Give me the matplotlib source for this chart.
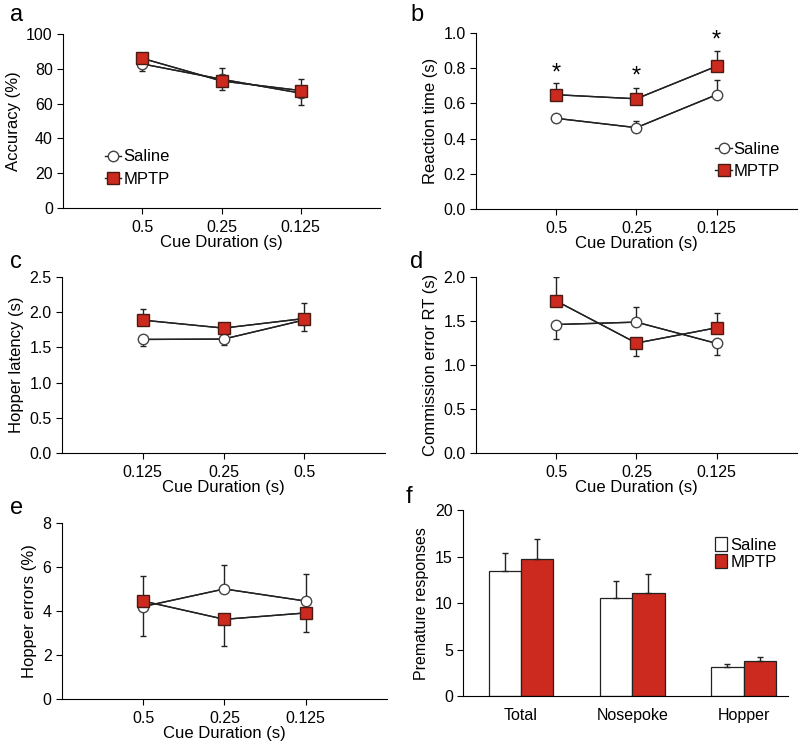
import numpy as np
import matplotlib
matplotlib.use('Agg')
import matplotlib.pyplot as plt

plt.rcParams['font.family'] = ['Liberation Sans', 'DejaVu Sans']

# data
cue_desc = ['0.5', '0.25', '0.125']
cue_asc = ['0.125', '0.25', '0.5']

acc_sal = [82.8, 74, 66]
acc_sal_err = [4, 6, 7]
acc_mptp = [86, 73, 67.5]
acc_mptp_err = [2, 7.5, 6.5]

rt_sal = [0.515, 0.462, 0.649]
rt_sal_err = [0.02, 0.035, 0.083]
rt_mptp = [0.649, 0.626, 0.811]
rt_mptp_err = [0.064, 0.064, 0.085]
rt_star_y = [0.77, 0.75, 0.955]

hl_sal = [1.613, 1.618, 1.89]
hl_sal_err = [0.09, 0.09, 0.16]
hl_mptp = [1.887, 1.774, 1.91]
hl_mptp_err = [0.155, 0.07, 0.22]

ce_sal = [1.46, 1.487, 1.245]
ce_sal_err = [0.17, 0.177, 0.135]
ce_sal_dir = [-1, 1, -1]
ce_mptp = [1.728, 1.249, 1.423]
ce_mptp_err = [0.27, 0.15, 0.17]
ce_mptp_dir = [1, -1, 1]

he_sal = [4.2, 5.0, 4.45]
he_sal_err = [1.32, 1.09, 1.24]
he_sal_dir = [-1, 1, 1]
he_mptp = [4.45, 3.62, 3.91]
he_mptp_err = [1.15, 1.2, 0.86]
he_mptp_dir = [1, -1, -1]

prem_cats = ['Total', 'Nosepoke', 'Hopper']
prem_sal = [13.44, 10.5, 3.08]
prem_sal_err = [1.9, 1.9, 0.36]
prem_mptp = [14.73, 11.1, 3.73]
prem_mptp_err = [2.12, 2.05, 0.43]

red = '#CC2A1E'
fs_tick = 11.5
fs_lab = 12


def one_sided(err, dirs):
    err = np.array(err)
    dirs = np.array(dirs)
    lo = np.where(dirs < 0, err, 0)
    hi = np.where(dirs > 0, err, 0)
    return [lo, hi]


def style(ax, ylim, yticks, fmt):
    ax.spines['top'].set_visible(False)
    ax.spines['right'].set_visible(False)
    ax.set_ylim(*ylim)
    ax.set_yticks(yticks)
    ax.set_yticklabels([fmt.format(v) for v in yticks])
    ax.tick_params(direction='out', length=4, labelsize=fs_tick, width=0.8)
    ax.tick_params(axis='x', pad=5)


def line_panel(ax, labels, sal, sal_err, sal_dir, mptp, mptp_err, mptp_dir):
    x = np.arange(1, 4)
    ax.errorbar(x, sal, yerr=one_sided(sal_err, sal_dir), fmt='-', color='#222222',
                lw=1, capsize=2, elinewidth=1, zorder=2)
    ax.errorbar(x, mptp, yerr=one_sided(mptp_err, mptp_dir), fmt='-', color='#222222',
                lw=1, capsize=2, elinewidth=1, zorder=2)
    l1, = ax.plot(x, sal, '-o', color='#222222', mfc='white', mec='#444444', ms=7.5,
                  lw=1, zorder=3, label='Saline')
    l2, = ax.plot(x, mptp, '-s', color='#222222', mfc=red, mec='#4a1a14', ms=8,
                  lw=1, zorder=4, label='MPTP')
    ax.set_xlim(0, 4)
    ax.set_xticks(x)
    ax.set_xticklabels(labels)
    ax.set_xlabel('Cue Duration (s)', fontsize=fs_lab, labelpad=0)
    return l1, l2


fig = plt.figure(figsize=(8, 7.49), dpi=100)

# a
ax = fig.add_axes([0.079, 0.7223, 0.396, 0.2323])
h = line_panel(ax, cue_desc, acc_sal, acc_sal_err, [-1] * 3, acc_mptp, acc_mptp_err, [1] * 3)
style(ax, (0, 100), [0, 20, 40, 60, 80, 100], '{:g}')
ax.set_ylabel('Accuracy (%)', fontsize=fs_lab)
ax.legend(handles=h, loc='upper left', bbox_to_anchor=(0.105, 0.385), frameon=False,
          fontsize=fs_lab, handlelength=1.0, handletextpad=0.1, labelspacing=0.45, borderpad=0)

# b
ax = fig.add_axes([0.595, 0.721, 0.401, 0.235])
h = line_panel(ax, cue_desc, rt_sal, rt_sal_err, [1] * 3, rt_mptp, rt_mptp_err, [1] * 3)
style(ax, (0, 1.0), [0, 0.2, 0.4, 0.6, 0.8, 1.0], '{:.1f}')
ax.set_ylabel('Reaction time (s)', fontsize=fs_lab)
ax.legend(handles=h, loc='upper left', bbox_to_anchor=(0.72, 0.43), frameon=False,
          fontsize=fs_lab, handlelength=1.0, handletextpad=0.1, labelspacing=0.45, borderpad=0)
for i, y in enumerate(rt_star_y):
    ax.text(i + 1, y, '*', ha='center', va='center', fontsize=17)

# c
ax = fig.add_axes([0.0775, 0.3952, 0.404, 0.235])
line_panel(ax, cue_asc, hl_sal, hl_sal_err, [-1] * 3, hl_mptp, hl_mptp_err, [1] * 3)
style(ax, (0, 2.5), [0, 0.5, 1.0, 1.5, 2.0, 2.5], '{:.1f}')
ax.set_ylabel('Hopper latency (s)', fontsize=fs_lab)

# d
ax = fig.add_axes([0.595, 0.3952, 0.401, 0.235])
line_panel(ax, cue_desc, ce_sal, ce_sal_err, ce_sal_dir, ce_mptp, ce_mptp_err, ce_mptp_dir)
style(ax, (0, 2.0), [0, 0.5, 1.0, 1.5, 2.0], '{:.1f}')
ax.set_ylabel('Commission error RT (s)', fontsize=fs_lab)

# e
ax = fig.add_axes([0.0775, 0.0668, 0.406, 0.235])
line_panel(ax, cue_desc, he_sal, he_sal_err, he_sal_dir, he_mptp, he_mptp_err, he_mptp_dir)
style(ax, (0, 8), [0, 2, 4, 6, 8], '{:g}')
ax.set_ylabel('Hopper errors (%)', fontsize=fs_lab)

# f
ax = fig.add_axes([0.579, 0.0708, 0.406, 0.248])
xb = np.arange(1, 4)
w = 0.29
ax.bar(xb - w / 2, prem_sal, w, color='white', edgecolor='#222222', lw=0.9, label='Saline')
ax.bar(xb + w / 2, prem_mptp, w, color=red, edgecolor='#222222', lw=0.9, label='MPTP')
ax.errorbar(xb - w / 2, prem_sal, yerr=[np.zeros(3), prem_sal_err], fmt='none',
            ecolor='#222222', elinewidth=1, capsize=2)
ax.errorbar(xb + w / 2, prem_mptp, yerr=[np.zeros(3), prem_mptp_err], fmt='none',
            ecolor='#222222', elinewidth=1, capsize=2)
ax.set_xlim(0.48, 3.4)
ax.set_xticks(xb)
ax.set_xticklabels(prem_cats)
style(ax, (0, 20), [0, 5, 10, 15, 20], '{:g}')
ax.tick_params(axis='x', length=0, pad=9)
ax.set_ylabel('Premature responses', fontsize=fs_lab - 0.5)
ax.legend(loc='upper left', bbox_to_anchor=(0.75, 0.9), frameon=False, fontsize=fs_lab,
          handlelength=0.7, handleheight=0.9, handletextpad=0.2, labelspacing=0.1, borderpad=0)

# panel letters
for letter, (px, py) in zip('abcdef', [(10, 15), (410, 15), (10, 262), (410, 262), (10, 508), (406, 497)]):
    fig.text(px / 800, 1 - py / 749, letter, fontsize=17, va='center', ha='left')

fig.savefig('out.png', dpi=100)
